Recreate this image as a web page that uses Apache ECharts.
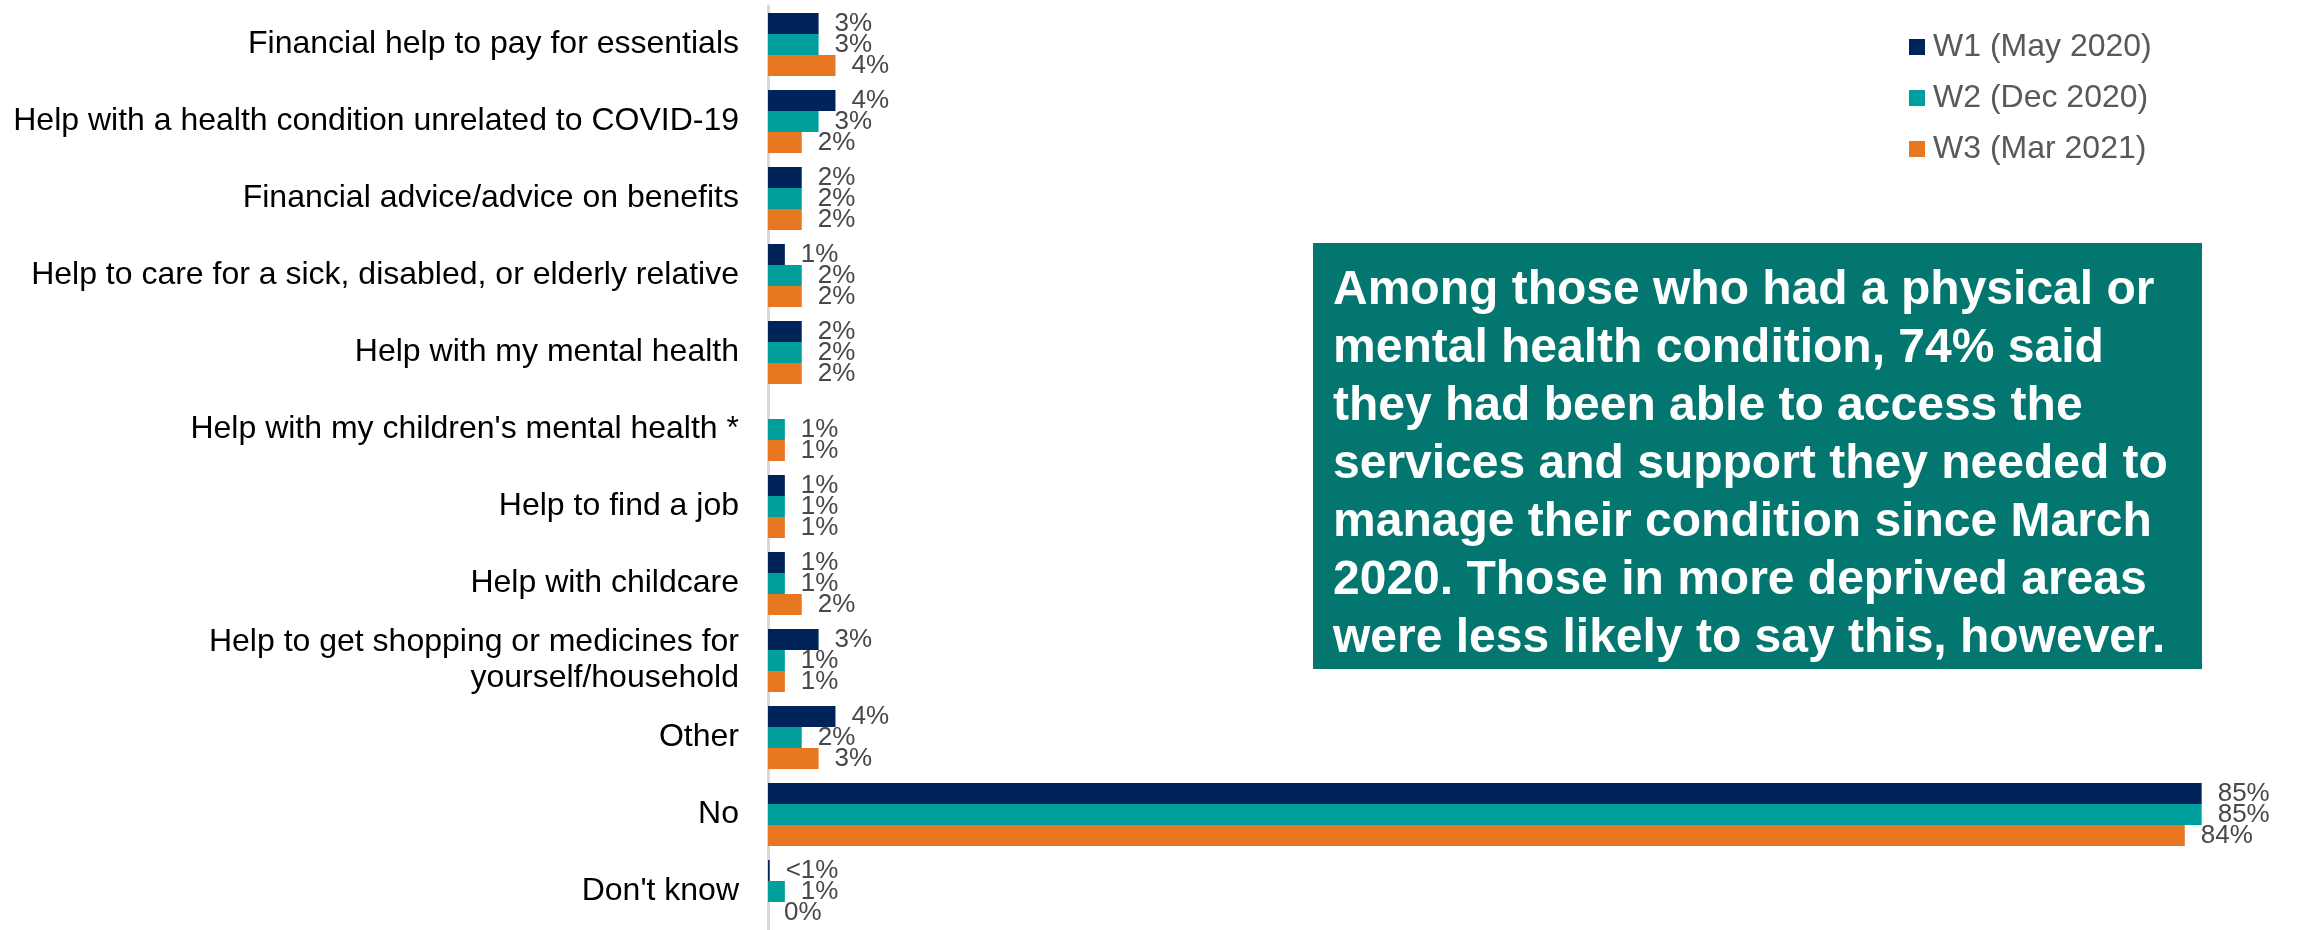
<!DOCTYPE html>
<html>
<head>
<meta charset="utf-8">
<title>Help needed</title>
<script src="https://cdn.jsdelivr.net/npm/echarts@6/dist/echarts.min.js"></script>
<style>
  html, body { margin: 0; padding: 0; background: #ffffff; }
  #chart { width: 2298px; height: 930px; }
</style>
</head>
<body>
<div id="chart"></div>
<script>
// Kinds of help people said they needed (percent of respondents)
const categories = [
  'Financial help to pay for essentials',
  'Help with a health condition unrelated to COVID-19',
  'Financial advice/advice on benefits',
  'Help to care for a sick, disabled, or elderly relative',
  'Help with my mental health',
  "Help with my children's mental health *",
  'Help to find a job',
  'Help with childcare',
  'Help to get shopping or medicines for\nyourself/household',
  'Other',
  'No',
  "Don't know"
];

const waveNames = ['W1 (May 2020)', 'W2 (Dec 2020)', 'W3 (Mar 2021)'];

// W1 has no figure for the children's mental health item; "<1%" is a small positive share
const w1 = [3, 4, 2, 1, 2, null, 1, 1, 3, 4, 85, 0.1];
const w2 = [3, 3, 2, 2, 2, 1, 1, 1, 1, 2, 85, 1];
const w3 = [4, 2, 2, 2, 2, 1, 1, 2, 1, 3, 84, 0];

const waveColors = ['#00245a', '#009f9b', '#e87722'];

const calloutText = [
  'Among those who had a physical or',
  'mental health condition, 74% said',
  'they had been able to access the',
  'services and support they needed to',
  'manage their condition since March',
  '2020. Those in more deprived areas',
  'were less likely to say this, however.'
].join('\n');

const FONT = "'Liberation Sans', Arial, Helvetica, sans-serif";

function pctLabel(p) {
  const v = p.value;
  if (v > 0 && v < 1) return '<1%';
  return v + '%';
}

function makeSeries(name, data, color) {
  return {
    name: name,
    type: 'bar',
    data: data,
    barWidth: 21,
    barGap: '0%',
    itemStyle: { color: color },
    label: {
      show: true,
      position: 'right',
      distance: 16,
      formatter: pctLabel,
      fontFamily: FONT,
      fontSize: 26,
      color: '#484848'
    },
    emphasis: { disabled: true }
  };
}

const chart = echarts.init(document.getElementById('chart'), null, { renderer: 'canvas' });

chart.setOption({
  animation: false,
  backgroundColor: '#ffffff',
  textStyle: { fontFamily: FONT },
  grid: { left: 768, right: 12, top: 6, bottom: -7, containLabel: false },
  legend: {
    data: waveNames,
    orient: 'vertical',
    left: 1909,
    top: 31,
    padding: 0,
    icon: 'rect',
    itemWidth: 16,
    itemHeight: 16,
    itemGap: 19,
    textStyle: {
      fontFamily: FONT,
      fontSize: 32,
      lineHeight: 32,
      color: '#595959',
      padding: [0, 0, 0, 3]
    }
  },
  xAxis: {
    type: 'value',
    min: 0,
    max: 90,
    show: false,
    splitLine: { show: false }
  },
  yAxis: {
    type: 'category',
    data: categories,
    inverse: true,
    axisTick: { show: false },
    axisLine: { show: true, lineStyle: { color: '#d9d9d9', width: 3 } },
    axisLabel: {
      margin: 29,
      fontFamily: FONT,
      fontSize: 32,
      lineHeight: 36,
      color: '#000000',
      align: 'right'
    }
  },
  series: [
    makeSeries(waveNames[0], w1, waveColors[0]),
    makeSeries(waveNames[1], w2, waveColors[1]),
    makeSeries(waveNames[2], w3, waveColors[2])
  ],
  graphic: [
    {
      type: 'group',
      left: 1313,
      top: 243,
      children: [
        {
          type: 'rect',
          shape: { x: 0, y: 0, width: 889, height: 426 },
          style: { fill: '#047670' }
        },
        {
          type: 'text',
          x: 20,
          y: 222,
          style: {
            text: calloutText,
            fill: '#ffffff',
            font: 'bold 48px ' + FONT,
            lineHeight: 58,
            verticalAlign: 'middle',
            align: 'left'
          }
        }
      ]
    }
  ]
});
</script>
</body>
</html>
